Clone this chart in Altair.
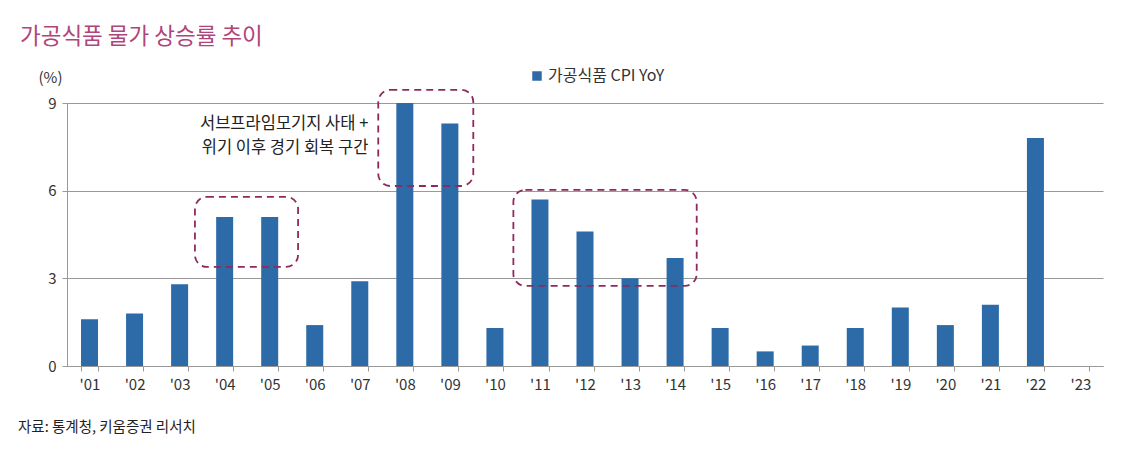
import altair as alt
import pandas as pd

years = ["'01", "'02", "'03", "'04", "'05", "'06", "'07", "'08", "'09", "'10", "'11", "'12",
         "'13", "'14", "'15", "'16", "'17", "'18", "'19", "'20", "'21", "'22", "'23"]
cpi = [1.6, 1.8, 2.8, 5.1, 5.1, 1.4, 2.9, 9.0, 8.3, 1.3, 5.7, 4.6,
       3.0, 3.7, 1.3, 0.5, 0.7, 1.3, 2.0, 1.4, 2.1, 7.8, None]
series_name = "가공식품 CPI YoY"

# annotation boxes in band-index units (0..23) and value units
box_x1 = [2.84, 6.91, 9.91]
box_x2 = [5.13, 9.02, 13.98]
box_y1 = [3.39, 6.16, 2.74]
box_y2 = [5.79, 9.45, 6.03]

note_lines = ["서브프라임모기지 사태 +", "위기 이후 경기 회복 구간"]
note_x = [6.69, 6.69]
note_y = [8.29, 7.47]

title_text = "가공식품 물가 상승률 추이"
source_text = "자료: 통계청, 키움증권 리서치"

FONT = "Noto Sans CJK KR"
W, H = 1036, 263

df = pd.DataFrame({"year": years, "cpi": cpi, "series": series_name}).dropna()
boxes = pd.DataFrame({"x1": box_x1, "x2": box_x2, "y1": box_y1, "y2": box_y2})
notes = pd.DataFrame({"t": note_lines, "x": note_x, "y": note_y})
src = pd.DataFrame({"t": [source_text]})
ttl = pd.DataFrame({"t": [title_text]})

yscale = alt.Scale(domain=[0, 9], nice=False, zero=True)

bars = alt.Chart(df).mark_bar(size=17).encode(
    x=alt.X("year:N",
            scale=alt.Scale(domain=years, paddingInner=0.62, paddingOuter=0.31),
            axis=alt.Axis(title=None, labelAngle=0, labelFontSize=15, labelColor="#333333",
                          labelFont=FONT, domainColor="#999999", tickColor="#999999",
                          tickSize=5, tickBand="extent", labelPadding=6, grid=False)),
    y=alt.Y("cpi:Q", scale=yscale,
            axis=alt.Axis(values=[0, 3, 6, 9], title="(%)", titleAngle=0, titleX=-17, titleY=-26,
                          titleAlign="center", titleBaseline="middle", titleFontSize=15,
                          titleFontWeight="normal", titleColor="#333333", titleFont=FONT,
                          labelFontSize=15, labelColor="#333333", labelFont=FONT,
                          domainColor="#999999", tickColor="#999999", tickSize=5,
                          labelPadding=6, gridColor="#999999", gridWidth=1.2)),
    color=alt.Color("series:N", scale=alt.Scale(range=["#2C6BA8"]),
                    legend=alt.Legend(title=None, orient="none", legendX=462, legendY=-35,
                                      symbolType="square", symbolSize=90, symbolStrokeWidth=0,
                                      labelFontSize=16, labelFont=FONT, labelColor="#333333",
                                      labelOffset=3)),
)

xq = alt.Scale(domain=[0, 23], nice=False, zero=False)

rects = alt.Chart(boxes).mark_rect(
    fillOpacity=0, stroke="#8E2A5C", strokeWidth=1.8, strokeDash=[7, 5], cornerRadius=12
).encode(
    x=alt.X("x1:Q", scale=xq, axis=None),
    x2="x2:Q",
    y=alt.Y("y1:Q", scale=yscale, axis=None),
    y2="y2:Q",
)

text = alt.Chart(notes).mark_text(
    align="right", baseline="middle", fontSize=16.5, font=FONT, color="#222222"
).encode(
    x=alt.X("x:Q", scale=xq, axis=None),
    y=alt.Y("y:Q", scale=yscale, axis=None),
    text="t:N",
)

source = alt.Chart(src).mark_text(
    align="left", baseline="middle", fontSize=14.5, font=FONT, color="#222222"
).encode(
    x=alt.value(-49), y=alt.value(325), text="t:N"
)

title = alt.Chart(ttl).mark_text(
    align="left", baseline="middle", fontSize=22.5, font=FONT, color="#B0457B"
).encode(
    x=alt.value(-47), y=alt.value(-66), text="t:N"
)

chart = alt.layer(bars, rects, text, source, title).resolve_scale(
    x="independent"
).resolve_axis(y="independent").properties(
    width=W, height=H,
    autosize=alt.AutoSizeParams(type="none"),
    padding={"left": 67, "top": 103, "right": 32, "bottom": 98},
).configure(background="white").configure_view(stroke="transparent", strokeWidth=0)

chart.save("out.html", embed_options={"renderer": "svg", "actions": False})
